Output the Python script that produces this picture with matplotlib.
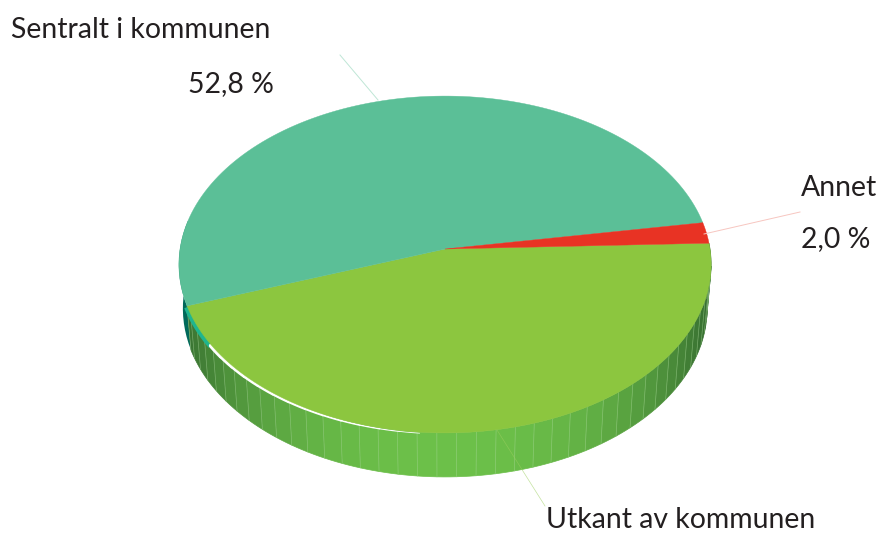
import numpy as np
import matplotlib
matplotlib.use('Agg')
import matplotlib.pyplot as plt

plt.rcParams['font.family'] = ['Lato', 'DejaVu Sans']

labels = ['Utkant av kommunen', 'Sentralt i kommunen', 'Annet']
values = [45.2, 52.8, 2.0]
value_labels = ['', '52,8 %', '2,0 %']
colors = ['#8cc63f', '#5bbf97', '#e83324']

# geometry of the tilted disc, in pixels
cx, cy = 445, 249
rx, ry = 265, 167
tilt = -0.092
depth = 44
start = -2.0


def rim(theta, scale=1.0):
    t = np.radians(theta)
    u, v = np.cos(t), np.sin(t)
    w = 1 + tilt * v
    return cx + scale * rx * u / w, cy + ry * v / w


def wall_color(theta, front, side):
    t = abs(np.cos(np.radians(theta))) ** 2.4
    return tuple((1 - t) * np.array(matplotlib.colors.to_rgb(front)) + t * np.array(matplotlib.colors.to_rgb(side)))


fig, ax = plt.subplots(figsize=(8.8, 5.34), dpi=100)
fig.subplots_adjust(0, 0, 1, 1)
ax.set_xlim(0, 880)
ax.set_ylim(534, 0)
ax.axis('off')

sweeps = np.array(values) / sum(values) * 360
edges = start + np.concatenate([[0], np.cumsum(sweeps)])

# side wall, one facet at a time
lime_end = edges[1]
steps = np.arange(start, lime_end, 3.9)
steps = np.append(steps, lime_end)
for a, b in zip(steps[:-1], steps[1:]):
    th = np.linspace(a, b, 4)
    x0, y0 = rim(th)
    x1, y1 = rim(th[::-1], scale=0.985)
    col = wall_color((a + b) / 2, '#6cc049', '#33692f')
    ax.fill(np.r_[x0, x1], np.r_[y0, y1 + depth], color=col, ec=col, lw=0.5, zorder=1)
    xl, yl = rim(np.array([b]))
    xb, yb = rim(np.array([b]), scale=0.985)
    ax.plot([xl[0], xb[0]], [yl[0], yb[0] + depth], color='#a9d99a', lw=0.5, alpha=0.5, zorder=1.5)

# dark teal part of the wall on the far left
th = np.linspace(lime_end, 190, 14)
x0, y0 = rim(th)
x1, y1 = rim(th[::-1], scale=0.985)
ax.fill(np.r_[x0, x1], np.r_[y0, y1 + depth], color='#00695a', lw=0, zorder=0.8)

# bright sliver and white gap under the front slice
th = np.linspace(lime_end, 147, 20)
x0, y0 = rim(th)
ax.plot(x0 - 0.5, y0 + 1.5, color='#1fb58f', lw=3.5, solid_capstyle='butt', zorder=2)
gap = np.linspace(147, 95, 14)
for a, b, lw in zip(gap[:-1], gap[1:], np.linspace(3.2, 0.6, 13)):
    th = np.linspace(a, b, 4)
    x0, y0 = rim(th)
    ax.plot(x0, y0 + 1, color='white', lw=lw, solid_capstyle='round', zorder=2)

# top of the pie
for i in range(len(values)):
    th = np.linspace(edges[i], edges[i + 1], 120)
    x, y = rim(th)
    ax.fill(np.r_[cx, x], np.r_[cy, y], color=colors[i], lw=0.3, ec=colors[i], zorder=3)

# leader lines
ax.plot([340, 378], [55, 100], color='#bfe6d6', lw=0.7, zorder=4)
ax.plot([704, 800], [234, 212], color='#f7c6c0', lw=0.7, zorder=4)
ax.plot([497, 545], [430, 506], color='#9ccf5f', lw=0.5, alpha=0.6, zorder=4)

# texts
txt = '#231f20'
fs = 20.4
ax.text(11, 38, labels[1], fontsize=fs, color=txt, va='baseline', ha='left')
ax.text(274, 92, value_labels[1], fontsize=fs, color=txt, va='baseline', ha='right')
ax.text(801, 196, labels[2], fontsize=fs, color=txt, va='baseline', ha='left')
ax.text(801, 247, value_labels[2], fontsize=fs, color=txt, va='baseline', ha='left')
ax.text(546, 528, labels[0], fontsize=fs, color=txt, va='baseline', ha='left')

fig.savefig('out.png', dpi=100)
